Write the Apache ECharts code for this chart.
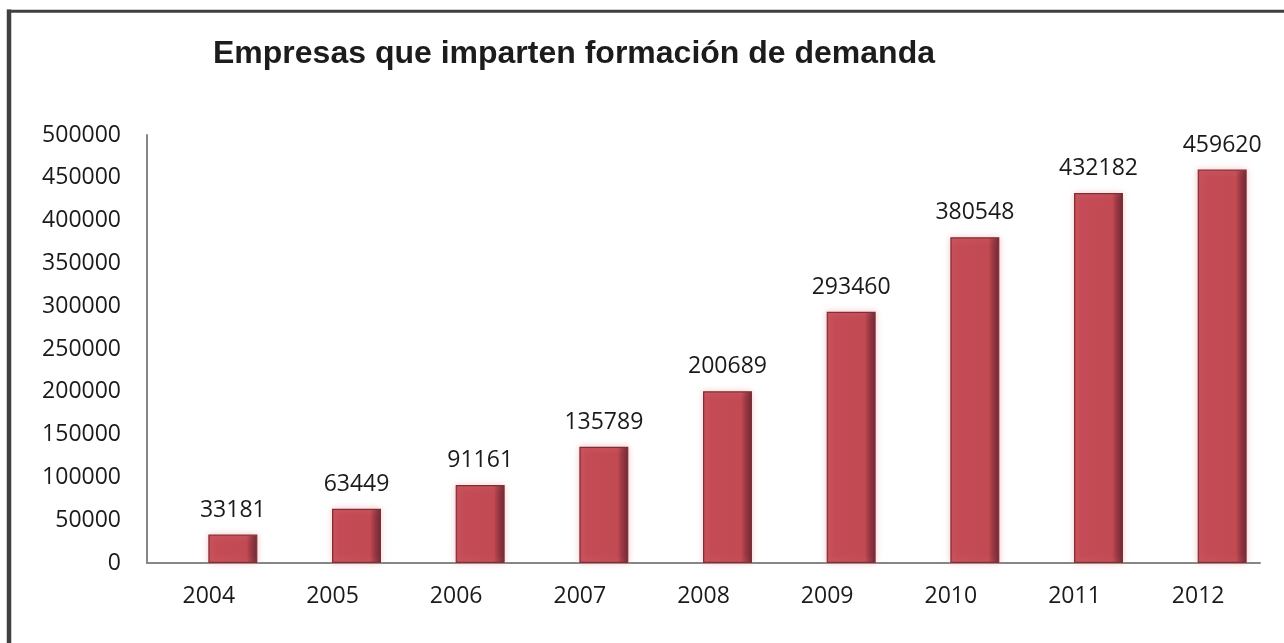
<!DOCTYPE html>
<html>
<head>
<meta charset="utf-8">
<script src="https://cdn.jsdelivr.net/npm/echarts@6/dist/echarts.min.js"></script>
<style>
html,body{margin:0;padding:0;background:#fff;}
#chart{width:1284px;height:643px;}
</style>
</head>
<body>
<div id="chart"></div>
<script>
const titleText = 'Empresas que imparten formación de demanda';
const categories = ['2004','2005','2006','2007','2008','2009','2010','2011','2012'];
const values = [33181, 63449, 91161, 135789, 200689, 293460, 380548, 432182, 459620];
const emptyValues = categories.map(() => '-');

const chart = echarts.init(document.getElementById('chart'));
const labelFont = '"Open Sans", "Noto Sans", sans-serif';
chart.setOption({
  animation: false,
  backgroundColor: '#ffffff',
  title: {
    text: titleText,
    left: 569,
    textAlign: 'center',
    top: 33,
    textStyle: {
      fontFamily: '"Liberation Sans", Arial, sans-serif',
      fontWeight: 'bold',
      fontSize: 32,
      color: '#1c1c1c'
    }
  },
  graphic: [
    { type: 'line', shape: { x1: 9, y1: 9.5, x2: 9, y2: 643 }, style: { stroke: '#404040', lineWidth: 4.5 } },
    { type: 'line', shape: { x1: 7, y1: 11.3, x2: 1284, y2: 11.3 }, style: { stroke: '#404040', lineWidth: 3 } }
  ],
  grid: { left: 147, right: 24, top: 135, bottom: 80, containLabel: false },
  xAxis: {
    type: 'category',
    data: categories,
    axisLine: { show: true, lineStyle: { color: '#868686', width: 2 } },
    axisTick: { show: false },
    axisLabel: { margin: 22, fontFamily: labelFont, fontSize: 23, color: '#1a1a1a' },
    splitLine: { show: false }
  },
  yAxis: {
    type: 'value',
    min: 0,
    max: 500000,
    interval: 50000,
    axisLine: { show: true, lineStyle: { color: '#868686', width: 2 } },
    axisTick: { show: false },
    axisLabel: { margin: 26, fontFamily: labelFont, fontSize: 23, color: '#1a1a1a', formatter: v => String(v) },
    splitLine: { show: false }
  },
  series: [
    {
      type: 'bar',
      data: emptyValues,
      barWidth: 49,
      barGap: '-2%',
      silent: true
    },
    {
      type: 'bar',
      data: values,
      barWidth: 49,
      barGap: '-2%',
      itemStyle: {
        color: {
          type: 'linear', x: 0, y: 0, x2: 1, y2: 0,
          colorStops: [
            { offset: 0, color: '#b9424c' },
            { offset: 0.06, color: '#c54c56' },
            { offset: 0.78, color: '#c24a53' },
            { offset: 0.88, color: '#963440' },
            { offset: 1, color: '#5e1f26' }
          ]
        },
        borderColor: '#832e37',
        borderWidth: 1.2,
        shadowColor: 'rgba(235,160,160,0.55)',
        shadowBlur: 6
      },
      label: {
        show: true,
        position: 'top',
        distance: 13,
        fontFamily: labelFont,
        fontSize: 23,
        color: '#1a1a1a'
      }
    }
  ]
});
</script>
</body>
</html>
